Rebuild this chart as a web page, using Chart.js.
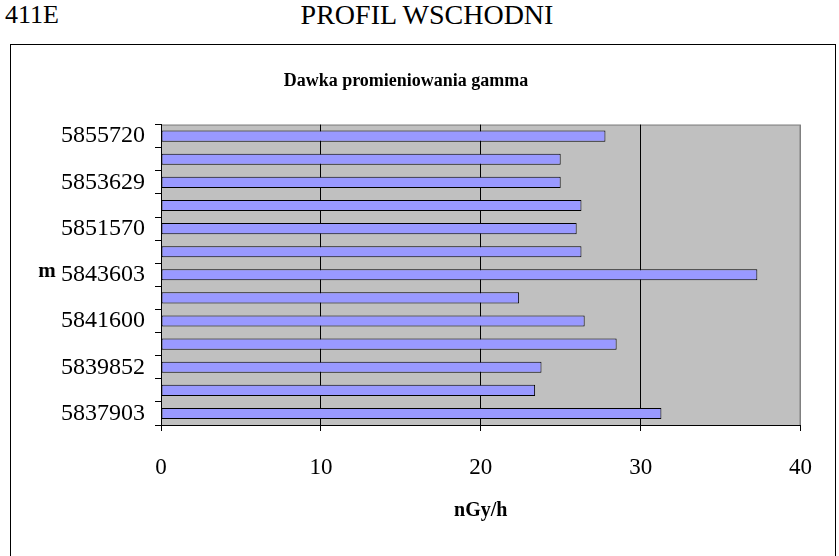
<!DOCTYPE html>
<html>
<head>
<meta charset="utf-8">
<script src="https://cdn.jsdelivr.net/npm/chart.js@4/dist/chart.umd.min.js"></script>
<style>
  body { margin: 0; background: #fff; width: 839px; height: 556px; overflow: hidden; position: relative; font-family: "Liberation Serif", serif; }
  #code { position: absolute; left: 5px; top: 0px; font-size: 26px; line-height: 30px; }
  #profile { position: absolute; left: 0; width: 854px; top: -1px; font-size: 28px; line-height: 32px; text-align: center; }
  #box { position: absolute; left: 10px; top: 44px; width: 824px; height: 530px; border: 1px solid #000; }
  #chart { position: absolute; left: 0; top: 0; }
</style>
</head>
<body>
<div id="code">411E</div>
<div id="profile">PROFIL WSCHODNI</div>
<div id="box"><canvas id="chart" width="824" height="511"></canvas></div>
<script>
// northing coordinates (top to bottom), only every other one is printed
const positions = ['5855720', '5854680', '5853629', '5852600', '5851570', '5847590', '5843603',
                   '5842600', '5841600', '5840730', '5839852', '5838880', '5837903'];
const doseRate = [27.8, 25.0, 25.0, 26.3, 26.0, 26.3, 37.3, 22.4, 26.5, 28.5, 23.8, 23.4, 31.3];
const xTicks = [0, 10, 20, 30, 40];

const serif = '"Liberation Serif", "Times New Roman", serif';

// grey plot area with grey top/right border, plus horizontal "m" axis title
const plotArea = {
    id: 'plotArea',
    beforeDraw(chart) {
        const { ctx, chartArea: a } = chart;
        ctx.save();
        ctx.fillStyle = '#c0c0c0';
        ctx.fillRect(a.left, a.top, a.right - a.left, a.bottom - a.top);
        ctx.strokeStyle = '#808080';
        ctx.lineWidth = 1;
        ctx.beginPath();
        ctx.moveTo(a.left, a.top + 0.5);
        ctx.lineTo(a.right - 0.5, a.top + 0.5);
        ctx.lineTo(a.right - 0.5, a.bottom);
        ctx.stroke();
        ctx.restore();
    },
    afterDraw(chart) {
        const { ctx, chartArea: a } = chart;
        ctx.save();
        ctx.fillStyle = '#000';
        ctx.font = 'bold 21px ' + serif;
        ctx.textAlign = 'center';
        ctx.textBaseline = 'middle';
        ctx.fillText('m', 36, (a.top + a.bottom) / 2 - 3);
        ctx.restore();
    }
};

new Chart(document.getElementById('chart'), {
    type: 'bar',
    data: {
        labels: positions,
        datasets: [{
            data: doseRate,
            backgroundColor: '#9999ff',
            borderColor: '#000',
            borderWidth: 1,
            borderSkipped: false,
            barPercentage: 0.48,
            categoryPercentage: 1
        }]
    },
    options: {
        indexAxis: 'y',
        responsive: false,
        animation: false,
        layout: { padding: { left: 0, right: 34, top: 0, bottom: 33 } },
        plugins: {
            legend: { display: false },
            tooltip: { enabled: false },
            title: {
                display: true,
                text: 'Dawka promieniowania gamma',
                color: '#000',
                font: { family: serif, size: 18, weight: 'bold' },
                padding: { top: 26, bottom: 32 }
            }
        },
        scales: {
            x: {
                min: 0,
                max: 40,
                afterBuildTicks: scale => { scale.ticks = xTicks.map(v => ({ value: v })); },
                afterFit: scale => { scale.height = 98; },
                border: { color: '#000', width: 1 },
                grid: {
                    color: c => c.tick && c.tick.value === 40 ? '#808080' : '#000',
                    tickColor: '#000',
                    tickLength: 6,
                    lineWidth: 1
                },
                ticks: {
                    color: '#000',
                    padding: 23,
                    font: { family: serif, size: 23 }
                },
                title: {
                    display: true,
                    text: 'nGy/h',
                    color: '#000',
                    font: { family: serif, size: 20, weight: 'bold' },
                    padding: { top: 20, bottom: 0 }
                }
            },
            y: {
                afterFit: scale => { scale.width = 150; },
                border: { color: '#000', width: 1 },
                grid: {
                    offset: true,
                    drawOnChartArea: false,
                    tickColor: '#000',
                    tickLength: 6
                },
                ticks: {
                    autoSkip: false,
                    color: '#000',
                    padding: 10,
                    font: { family: serif, size: 24 },
                    callback: (v, i) => i % 2 === 0 ? positions[i] : ''
                }
            }
        }
    },
    plugins: [plotArea]
});
</script>
</body>
</html>
